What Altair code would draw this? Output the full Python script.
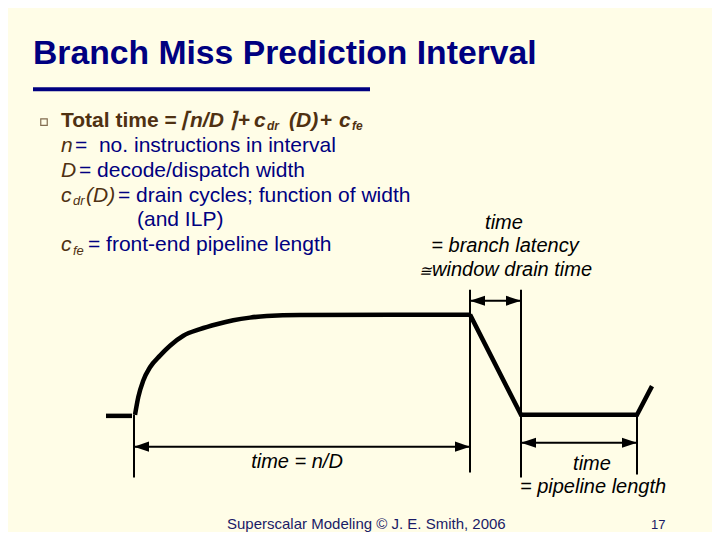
import altair as alt
import pandas as pd

BG = "#FFFDE7"
NAVY = "#000080"
BROWN = "#4F3112"
BLACK = "#000000"
FONT = "Liberation Sans"

# ---- text content (segments of the slide) ----
seg_text = [
    "Branch Miss Prediction Interval",
    "Total time =", "\u2308", "n/D", "\u2309", "+", "c", "dr", "(D)", "+", "c", "fe",
    "n", "=\u00a0 no. instructions in interval",
    "D", "= decode/dispatch width",
    "c", "dr", "(D)", "= drain cycles; function of width",
    "(and ILP)",
    "c", "fe", "= front-end pipeline length",
    "time", "= branch latency", "\u2245", "window drain time",
    "time = n/D",
    "time", "= pipeline length",
    "Superscalar Modeling \u00a9 J. E. Smith, 2006", "17",
]
seg_x = [33,
         61, 181, 190, 228, 238, 254, 267, 289, 320, 339, 352,
         61, 75,
         61, 79,
         61, 73, 86, 118,
         137,
         61, 73, 88,
         504, 505, 419, 432,
         297,
         592, 593,
         227, 651]
seg_y = [64,
         128, 128, 128, 128, 128, 128, 131, 128, 128, 128, 131,
         153, 153,
         178, 178,
         203, 207, 203, 203,
         228,
         253, 257, 253,
         231, 254, 278, 278,
         472,
         474, 497,
         533, 533]
seg_size = [33.7,
            21, 21, 21, 21, 21, 21, 12, 21, 21, 21, 12,
            21, 21,
            21, 21,
            21, 13, 21, 21,
            21,
            21, 13, 21,
            20, 20, 15, 20,
            20,
            20, 20,
            15, 13]
seg_style = ["title",
             "bb", "bbi", "bbi", "bbi", "bb", "bbi", "bbi", "bbi", "bb", "bbi", "bbi",
             "bi", "navy",
             "bi", "navy",
             "bi", "bi", "bi", "navy",
             "navy",
             "bi", "bi", "navy",
             "note", "note", "noteL", "noteL",
             "note",
             "note", "note",
             "foot", "foot"]

texts = pd.DataFrame({"text": seg_text, "x": seg_x, "y": seg_y,
                      "size": seg_size, "style": seg_style})

# ---- diagram: issue rate over time ----
rise_t = [135, 138.3, 143.3, 150, 160, 170, 183.3, 200, 216.7, 233.3, 250, 266.7, 300, 470]
rise_v = [418, 400, 383.3, 370, 358.3, 348.3, 338.3, 331.7, 326.7, 322.7, 320, 318.3, 317.3, 317]
drop_t = [470, 521, 637, 652]
drop_v = [317, 418, 418, 389]
dash_t = [106, 132]
dash_v = [419, 419]

rise = pd.DataFrame({"x": rise_t, "y": rise_v, "i": range(len(rise_t))})
drop = pd.DataFrame({"x": drop_t, "y": drop_v, "i": range(len(drop_t))})
dash = pd.DataFrame({"x": dash_t, "y": dash_v, "i": [0, 1]})

# vertical marker lines
vline_x = [134, 470, 521, 637]
vline_top = [418, 292, 292, 418]
vline_bot = [481, 476, 481, 478]
vlines = pd.DataFrame({"x": vline_x, "y": vline_top, "y2": vline_bot})

# dimension arrows
arrow_x1 = [134, 470, 521]
arrow_x2 = [470, 521, 637]
arrow_y = [450, 303, 446]
arrows = pd.DataFrame({"x": arrow_x1, "x2": arrow_x2, "y": arrow_y})
heads_left = pd.DataFrame({"x": arrow_x1, "y": arrow_y})
heads_right = pd.DataFrame({"x": arrow_x2, "y": arrow_y})

underline = pd.DataFrame({"x": [33], "x2": [370], "y": [90]})
bullet = pd.DataFrame({"x": [44], "y": [123]})

xs = alt.Scale(domain=[8, 712], nice=False, zero=False)
ys = alt.Scale(domain=[8, 532], nice=False, zero=False, reverse=True)
X = alt.X("x:Q", scale=xs, axis=None)
Y = alt.Y("y:Q", scale=ys, axis=None)

layers = []

layers.append(alt.Chart(underline).mark_rule(color=NAVY, strokeWidth=4).encode(
    x=X, x2="x2:Q", y=Y))
layers.append(alt.Chart(bullet).mark_point(shape="square", filled=False, size=42,
                                           strokeWidth=1.2, color=BROWN).encode(x=X, y=Y))

layers.append(alt.Chart(dash).mark_line(color=BLACK, strokeWidth=4.5).encode(
    x=X, y=Y, order="i:Q"))
layers.append(alt.Chart(rise).mark_line(color=BLACK, strokeWidth=4.5,
                                        interpolate="monotone").encode(
    x=X, y=Y, order="i:Q"))
layers.append(alt.Chart(drop).mark_line(color=BLACK, strokeWidth=4.5,
                                        strokeJoin="miter").encode(
    x=X, y=Y, order="i:Q"))
layers.append(alt.Chart(vlines).mark_rule(color=BLACK, strokeWidth=2).encode(
    x=X, y=Y, y2="y2:Q"))
layers.append(alt.Chart(arrows).mark_rule(color=BLACK, strokeWidth=2).encode(
    x=X, x2="x2:Q", y=Y))
layers.append(alt.Chart(heads_left).mark_point(
    shape="M0,0L2,-0.67L2,0.67Z", filled=True, size=225, opacity=1,
    color=BLACK, strokeWidth=0).encode(x=X, y=Y))
layers.append(alt.Chart(heads_right).mark_point(
    shape="M0,0L-2,-0.67L-2,0.67Z", filled=True, size=225, opacity=1,
    color=BLACK, strokeWidth=0).encode(x=X, y=Y))

styles = {
    "title": dict(color=NAVY, fontWeight="bold", fontStyle="normal", align="left"),
    "bb": dict(color=BROWN, fontWeight="bold", fontStyle="normal", align="left"),
    "bbi": dict(color=BROWN, fontWeight="bold", fontStyle="italic", align="left"),
    "bi": dict(color=BROWN, fontWeight="normal", fontStyle="italic", align="left"),
    "navy": dict(color=NAVY, fontWeight="normal", fontStyle="normal", align="left"),
    "note": dict(color=BLACK, fontWeight="normal", fontStyle="italic", align="center"),
    "noteL": dict(color=BLACK, fontWeight="normal", fontStyle="italic", align="left"),
    "foot": dict(color="#1A1A66", fontWeight="normal", fontStyle="normal", align="left"),
}
for key, st in styles.items():
    sub = texts[texts["style"] == key]
    layers.append(alt.Chart(sub).mark_text(baseline="alphabetic", font=FONT, **st).encode(
        x=X, y=Y, text="text:N", size=alt.Size("size:Q", scale=None, legend=None)))

chart = alt.layer(*layers).properties(
    width=704, height=524, padding=0,
    autosize=alt.AutoSizeParams(type="fit", contains="padding"),
).configure(background=BG).configure_view(stroke=None, fill=BG)

chart.save("out.html", embed_options={"renderer": "svg", "actions": False})
